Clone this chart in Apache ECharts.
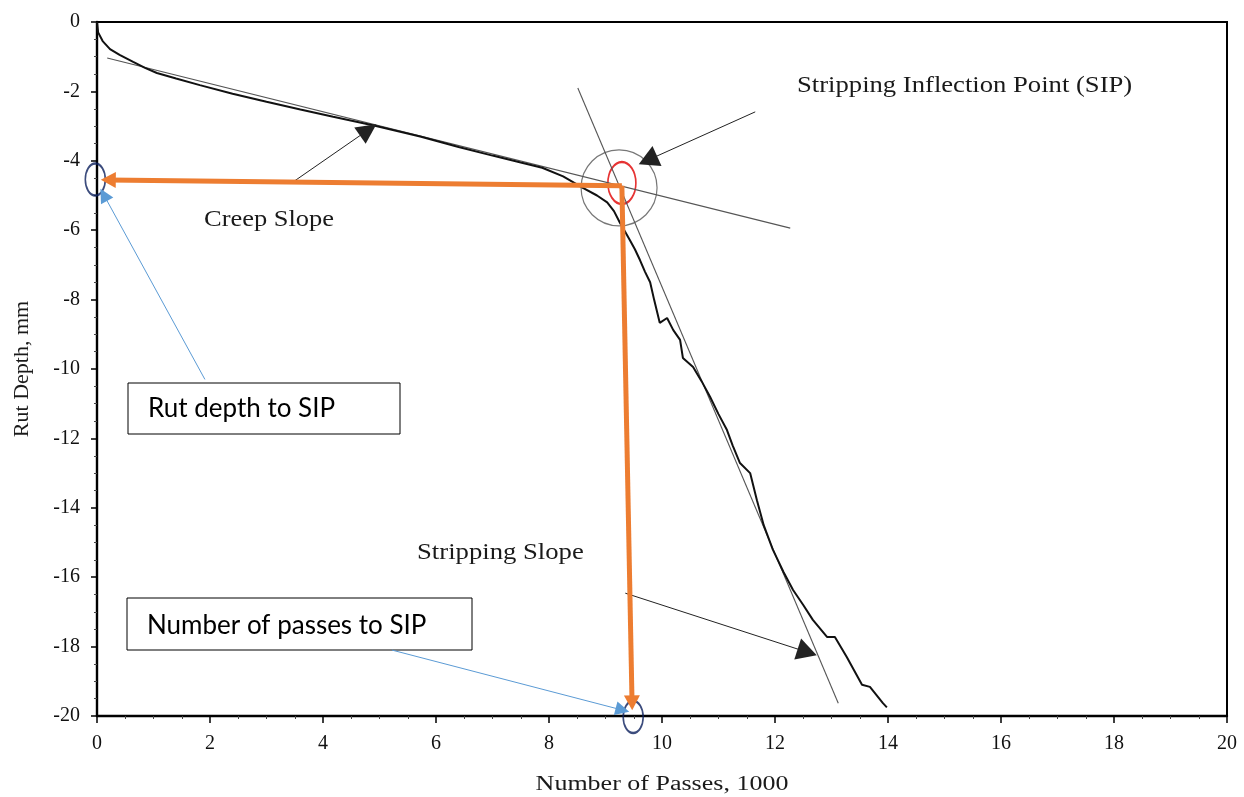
<!DOCTYPE html>
<html>
<head>
<meta charset="utf-8">
<script src="https://cdn.jsdelivr.net/npm/echarts@6/dist/echarts.min.js"></script>
<style>
  html, body { margin: 0; padding: 0; background: #fff; }
  #chart { width: 1244px; height: 797px; }
</style>
</head>
<body>
<div id="chart"></div>
<script>
// Hamburg wheel-tracking test: rut depth (mm) vs number of passes (thousands)
const passes = [0, 0.02, 0.1, 0.23, 0.4, 0.64, 0.85, 1.06, 1.4, 1.82, 2.4, 3.0, 3.6, 4.18, 4.9, 5.72,
  6.4, 7.0, 7.5, 7.88, 8.25, 8.6, 8.85, 9.03, 9.15, 9.26, 9.35, 9.43, 9.52, 9.61, 9.7, 9.79, 9.86,
  9.96, 10.09, 10.2, 10.32, 10.37, 10.55, 10.7, 10.85, 11.0, 11.15, 11.25, 11.38, 11.56, 11.68, 11.8,
  11.96, 12.15, 12.32, 12.5, 12.67, 12.92, 13.06, 13.27, 13.54, 13.68, 13.91, 13.98];
const rutDepth = [0, -0.3, -0.55, -0.78, -0.95, -1.15, -1.32, -1.47, -1.63, -1.82, -2.07, -2.3, -2.52, -2.73, -2.98, -3.3,
  -3.6, -3.85, -4.05, -4.2, -4.45, -4.78, -5.0, -5.2, -5.45, -5.8, -6.05, -6.28, -6.55, -6.86, -7.2, -7.5, -8.0,
  -8.67, -8.53, -8.88, -9.16, -9.68, -9.94, -10.35, -10.8, -11.3, -11.76, -12.2, -12.71, -13.0, -13.78, -14.5,
  -15.2, -15.85, -16.37, -16.8, -17.23, -17.72, -17.72, -18.3, -19.1, -19.16, -19.63, -19.75];

// Fitted tangent lines: [passes, rut depth] end points
const creepSlopeLine = [[0.18, -1.04], [12.27, -5.94]];
const strippingSlopeLine = [[8.51, -1.9], [13.12, -19.63]];

// Stripping inflection point and its projections onto the axes
const sip = [9.29, -4.72];
const sipRutDepth = [0.2, -4.55];
const sipPasses = [9.47, -19.62];

const xTicks = { min: 0, max: 20, interval: 2 };
const yTicks = { min: -20, max: 0, interval: 2 };

const curveData = passes.map((p, i) => [p, rutDepth[i]]);

const serif = '"Liberation Serif", "DejaVu Serif", serif';
const sans = 'Lato, "Open Sans", sans-serif';

const chart = echarts.init(document.getElementById('chart'), null, { renderer: 'canvas' });

// straight pointer from a to b with a filled head at b
function seg(a, b, color, width, headSize) {
  return [
    { coord: a, symbol: 'none', lineStyle: { color: color, width: width, type: 'solid' } },
    { coord: b, symbol: 'triangle', symbolSize: headSize }
  ];
}

// serif caption, slightly widened like the typeset figure text
function caption(text, x, y, size, sx, align) {
  return {
    type: 'text', x: x, y: y, scaleX: sx, z: 10,
    style: { text: text, x: 0, y: 0, font: size + 'px ' + serif, fill: '#1a1a1a',
      align: align || 'left', verticalAlign: 'middle' }
  };
}

chart.setOption({
  backgroundColor: '#fff',
  animation: false,
  grid: { left: 97, right: 17, top: 22, bottom: 81, show: true, borderColor: '#000', borderWidth: 2 },
  xAxis: {
    type: 'value', min: xTicks.min, max: xTicks.max, interval: xTicks.interval,
    axisLine: { onZero: false, lineStyle: { color: '#000', width: 2.4 } },
    axisTick: { inside: false, length: 7, lineStyle: { color: '#000', width: 1.5 } },
    minorTick: { show: true, splitNumber: 4, length: 3, lineStyle: { color: '#444' } },
    axisLabel: { fontFamily: serif, fontSize: 20, color: '#111', margin: 18 },
    splitLine: { show: false }
  },
  yAxis: {
    type: 'value', min: yTicks.min, max: yTicks.max, interval: yTicks.interval,
    name: 'Rut Depth, mm', nameLocation: 'middle', nameGap: 64,
    nameTextStyle: { fontFamily: serif, fontSize: 22, color: '#1a1a1a' },
    axisLine: { onZero: false, lineStyle: { color: '#000', width: 2.4 } },
    axisTick: { inside: false, length: 6, lineStyle: { color: '#000', width: 1.5 } },
    minorTick: { show: true, splitNumber: 4, length: 3, lineStyle: { color: '#444' } },
    axisLabel: { fontFamily: serif, fontSize: 20, color: '#111', margin: 17 },
    splitLine: { show: false }
  },
  series: [
    {
      name: 'Creep slope', type: 'line', symbol: 'none', silent: true,
      data: creepSlopeLine, lineStyle: { color: '#555', width: 1.1 }
    },
    {
      name: 'Stripping slope', type: 'line', symbol: 'none', silent: true,
      data: strippingSlopeLine, lineStyle: { color: '#555', width: 1.1 }
    },
    {
      name: 'Rut depth', type: 'line', symbol: 'none',
      data: curveData, lineStyle: { color: '#111', width: 2 }
    },
    {
      // pointer arrows for the text callouts
      name: 'callouts', type: 'line', data: [], silent: true,
      markLine: {
        silent: true, animation: false, label: { show: false },
        data: [
          seg([3.47, -4.61], [4.8, -3.11], '#222', 1, [20, 20]),
          seg([11.65, -2.59], [9.75, -3.98], '#222', 1, [22, 20]),
          seg([9.35, -16.46], [12.57, -18.16], '#222', 1, [22, 20])
        ]
      }
    },
    {
      name: 'SIP projections', type: 'line', data: [], silent: true,
      markLine: {
        silent: true, animation: false, label: { show: false },
        data: [
          seg(sip, sipRutDepth, '#ED7D31', 5, [16, 15]),
          seg(sip, sipPasses, '#ED7D31', 5, [16, 15])
        ]
      }
    },
    {
      name: 'box pointers', type: 'line', data: [], silent: true,
      markLine: {
        silent: true, animation: false, label: { show: false },
        data: [
          seg([1.91, -10.3], [0.12, -4.98], '#5B9BD5', 1, [14, 14]),
          seg([5.22, -18.1], [9.3, -19.83], '#5B9BD5', 1, [14, 14])
        ]
      }
    },
    {
      name: 'SIP circle', type: 'scatter', clip: false, silent: true,
      symbol: 'circle', symbolSize: 76,
      itemStyle: { color: 'transparent', borderColor: '#555', borderWidth: 1.2 },
      data: [[9.24, -4.78]]
    },
    {
      name: 'SIP marker', type: 'scatter', clip: false, silent: true,
      symbol: 'circle', symbolSize: [28, 42],
      itemStyle: { color: 'transparent', borderColor: '#E00000', borderWidth: 2 },
      data: [[9.29, -4.64]]
    },
    {
      name: 'axis markers', type: 'scatter', clip: false, silent: true,
      symbol: 'circle', symbolSize: [20, 32],
      itemStyle: { color: 'transparent', borderColor: '#0B1F5C', borderWidth: 2 },
      data: [[-0.03, -4.54], [9.49, -20.03]]
    }
  ],
  graphic: [
    caption('Creep Slope', 204, 220, 23, 1.15),
    caption('Stripping Inflection Point (SIP)', 797, 86, 24, 1.11),
    caption('Stripping Slope', 417, 553, 23, 1.16),
    caption('Number of Passes, 1000', 662, 785, 20, 1.3, 'center'),
    { type: 'rect', shape: { x: 128, y: 383, width: 272, height: 51 }, style: { fill: '#fff', stroke: '#000', lineWidth: 1 } },
    { type: 'text', x: 148, y: 409, style: { text: 'Rut depth to SIP', x: 0, y: 0, font: '26px ' + sans, fill: '#000', verticalAlign: 'middle' } },
    { type: 'rect', shape: { x: 127, y: 598, width: 345, height: 52 }, style: { fill: '#fff', stroke: '#000', lineWidth: 1 } },
    { type: 'text', x: 147, y: 626, style: { text: 'Number of passes to SIP', x: 0, y: 0, font: '26px ' + sans, fill: '#000', verticalAlign: 'middle' } }
  ]
});
</script>
</body>
</html>
